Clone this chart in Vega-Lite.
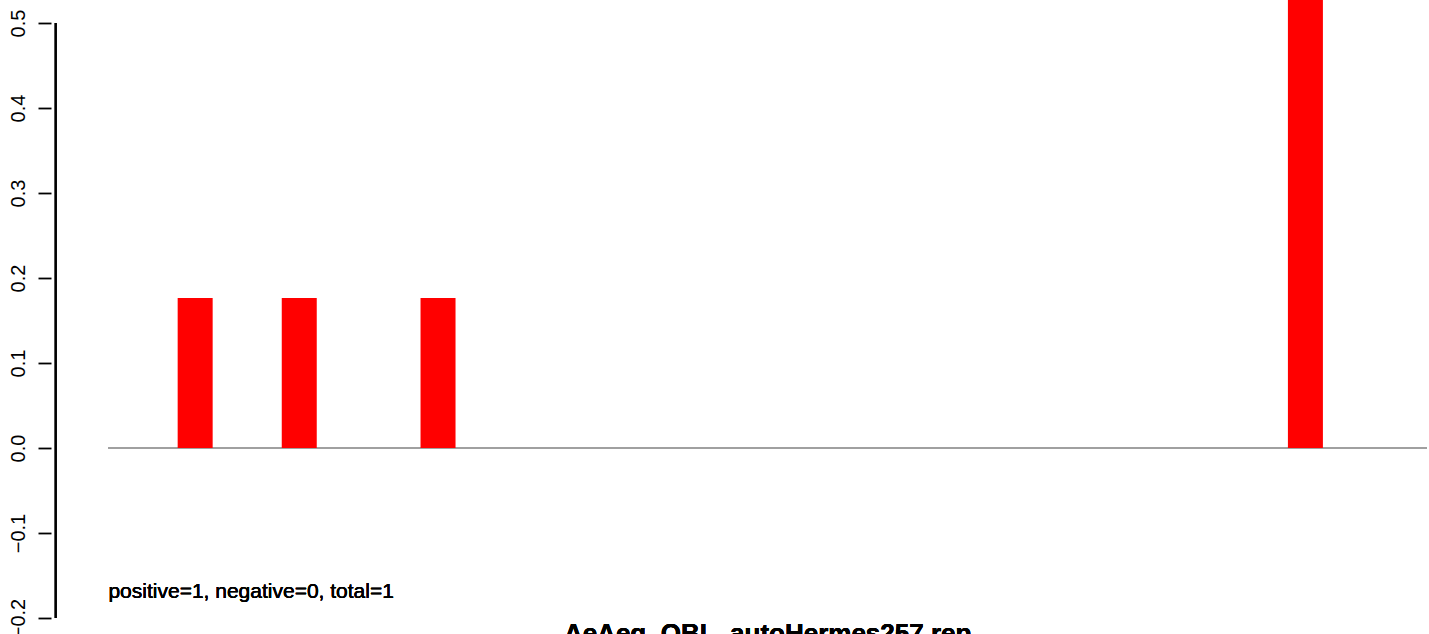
{
  "$schema": "https://vega.github.io/schema/vega-lite/v6.json",
  "width": 1429,
  "height": 634,
  "autosize": {"type": "none"},
  "padding": 0,
  "background": "white",
  "config": {"view": {"stroke": null}, "font": "Liberation Sans"},
  "data": {"values": [
    {"pos": 2.5, "value": 0.1765},
    {"pos": 5.5, "value": 0.1765},
    {"pos": 9.5, "value": 0.1765},
    {"pos": 34.5, "value": 1.0}
  ]},
  "layer": [
    {
      "mark": {"type": "rule", "color": "#a0a0a0", "strokeWidth": 1.8},
      "encoding": {
        "x": {"datum": 0, "type": "quantitative", "scale": {"domain": [-2.981, 37.918], "nice": false, "zero": false}, "axis": null},
        "x2": {"datum": 38},
        "y": {"datum": 0, "type": "quantitative", "scale": {"domain": [-0.2188, 0.5271], "nice": false, "zero": false},
          "axis": {
            "orient": "left", "offset": -51, "domain": false, "grid": false,
            "values": [-0.2, -0.1, 0, 0.1, 0.2, 0.3, 0.4, 0.5], "format": ".1f",
            "tickSize": 13, "tickColor": "black", "tickWidth": 1.8,
            "labelAngle": -90, "labelAlign": "center", "labelBaseline": "alphabetic", "labelPadding": 14,
            "labelFontSize": 20, "labelColor": "black", "labelFont": "Liberation Sans",
            "labelFlush": false, "labelOverlap": false, "labelBound": false, "title": null
          }
        }
      }
    },
    {
      "mark": {"type": "bar", "color": "#ff0000", "width": 35, "clip": true},
      "encoding": {
        "x": {"field": "pos", "type": "quantitative"},
        "y": {"field": "value", "type": "quantitative"},
        "y2": {"datum": 0}
      }
    },
    {
      "mark": {"type": "rule", "color": "black", "strokeWidth": 1.8},
      "encoding": {
        "x": {"datum": -1.521, "type": "quantitative"},
        "y": {"datum": -0.2, "type": "quantitative"},
        "y2": {"datum": 0.5}
      }
    },
    {
      "mark": {"type": "text", "text": "positive=1, negative=0, total=1", "align": "left", "baseline": "alphabetic", "fontSize": 21, "color": "black", "font": "Liberation Sans"},
      "encoding": {
        "x": {"datum": 0, "type": "quantitative"},
        "y": {"datum": -0.1768, "type": "quantitative"}
      }
    },
    {
      "mark": {"type": "text", "text": "AeAeg_QBL_autoHermes257.rep", "align": "center", "baseline": "alphabetic", "fontSize": 26, "fontWeight": "bold", "color": "black", "font": "Liberation Sans"},
      "encoding": {
        "x": {"datum": 19, "type": "quantitative"},
        "y": {"datum": -0.2278, "type": "quantitative"}
      }
    }
  ]
}
